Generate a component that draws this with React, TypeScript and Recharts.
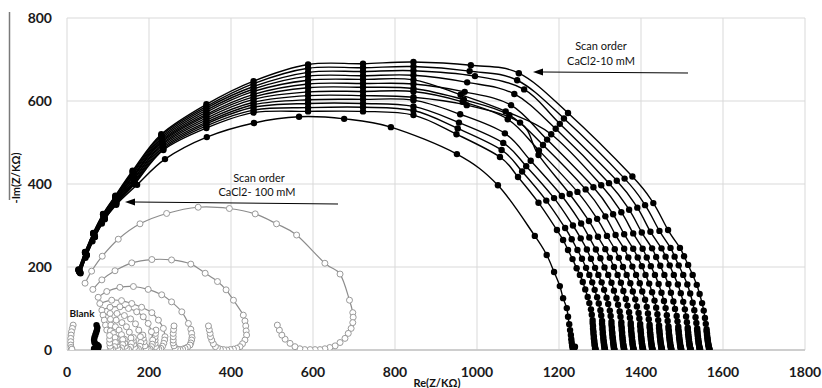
import React from 'react';
import { ScatterChart, Scatter, XAxis, YAxis, CartesianGrid } from 'recharts';

type P = [number, number];

const xTicks = [0, 200, 400, 600, 800, 1000, 1200, 1400, 1600, 1800];
const yTicks = [0, 200, 400, 600, 800];

// CaCl2 10 mM scans (black), inner (ends ~1285) to outer (ends ~1568)
const scan10_k0: P[] = [[32,186],[48,228],[68,272],[92,315],[120,352],[165,400],[235,482],[340,535],[455,572],[588,575],[722,575],[845,566],[950,520],[1056,465],[1100,417],[1150,355],[1195,289],[1210,265],[1222,241],[1233,219],[1243,197],[1251,181],[1258,164],[1264,146],[1270,128],[1274,113],[1278,98],[1280,85],[1282,72],[1282,65],[1283,58],[1283,51],[1284,45],[1284,39],[1285,33],[1285,28],[1286,23],[1286,19],[1287,14],[1287,11],[1288,7],[1288,4],[1289,2],[1289,1]];
const scan10_k1: P[] = [[32,187],[48,229],[68,273],[92,316],[120,354],[165,403],[235,485],[340,540],[455,578],[588,584],[722,585],[845,577],[953,534],[1060,482],[1110,430],[1169,360],[1215,294],[1231,267],[1245,241],[1256,220],[1266,198],[1274,181],[1281,163],[1287,145],[1293,127],[1297,112],[1301,96],[1303,83],[1305,70],[1305,63],[1306,56],[1306,50],[1307,43],[1307,38],[1308,32],[1308,27],[1309,22],[1309,18],[1310,14],[1310,11],[1311,7],[1311,4],[1312,2],[1312,1]];
const scan10_k2: P[] = [[31,187],[47,229],[67,274],[91,317],[120,355],[164,405],[234,488],[340,545],[455,585],[588,594],[722,594],[845,587],[956,548],[1064,499],[1120,443],[1188,366],[1234,300],[1253,269],[1268,242],[1278,220],[1288,198],[1296,181],[1304,163],[1310,145],[1316,126],[1320,111],[1324,95],[1326,82],[1328,68],[1328,61],[1329,54],[1329,48],[1330,42],[1330,37],[1331,31],[1331,27],[1332,22],[1332,18],[1333,14],[1333,10],[1334,7],[1334,4],[1335,2],[1335,1]];
const scan10_k3: P[] = [[31,188],[47,230],[67,274],[91,318],[120,357],[164,408],[234,492],[340,549],[455,591],[588,603],[722,604],[845,602],[959,568],[1068,522],[1131,456],[1207,371],[1254,305],[1274,271],[1290,242],[1301,221],[1311,199],[1320,181],[1328,162],[1334,143],[1340,124],[1344,109],[1348,93],[1350,80],[1352,67],[1352,60],[1353,54],[1353,48],[1354,42],[1354,36],[1355,31],[1355,26],[1356,21],[1356,17],[1357,13],[1357,10],[1358,7],[1358,4],[1359,2],[1359,1]];
const scan10_k4: P[] = [[31,189],[47,231],[67,275],[91,319],[119,359],[163,411],[233,495],[340,554],[455,597],[588,613],[722,613],[845,609],[975,590],[1105,548],[1150,470],[1226,376],[1273,311],[1295,273],[1313,243],[1324,222],[1334,200],[1343,181],[1351,162],[1357,142],[1363,123],[1367,107],[1371,91],[1373,78],[1375,65],[1375,59],[1376,52],[1376,46],[1377,40],[1377,35],[1378,30],[1378,25],[1379,21],[1379,17],[1380,13],[1380,10],[1381,7],[1381,4],[1382,2],[1382,1]];
const scan10_k5: P[] = [[30,189],[46,231],[66,276],[90,320],[119,360],[163,413],[233,498],[340,559],[455,604],[588,622],[722,623],[845,623],[965,598],[1075,556],[1151,481],[1245,381],[1293,316],[1317,275],[1336,243],[1346,222],[1356,200],[1365,181],[1374,161],[1380,141],[1386,122],[1390,105],[1394,89],[1396,76],[1398,63],[1398,57],[1399,50],[1399,45],[1400,39],[1400,34],[1401,29],[1401,25],[1402,20],[1402,16],[1403,13],[1403,9],[1404,6],[1404,4],[1405,2],[1405,1]];
const scan10_k6: P[] = [[30,190],[46,232],[66,277],[90,321],[119,362],[162,416],[232,501],[340,564],[455,610],[588,632],[722,633],[845,630],[968,603],[1079,566],[1161,494],[1265,387],[1313,322],[1338,277],[1359,244],[1369,223],[1379,201],[1388,181],[1397,161],[1403,141],[1410,121],[1414,104],[1417,88],[1419,74],[1421,61],[1421,55],[1422,49],[1422,43],[1423,38],[1423,33],[1424,28],[1424,24],[1425,20],[1425,16],[1426,12],[1426,9],[1427,6],[1427,4],[1428,2],[1428,1]];
const scan10_k7: P[] = [[30,191],[46,233],[66,278],[90,323],[119,364],[162,419],[232,504],[340,568],[455,616],[588,641],[722,642],[845,641],[970,622],[1083,590],[1171,507],[1284,392],[1332,327],[1359,279],[1381,244],[1392,223],[1402,202],[1411,181],[1420,160],[1427,139],[1433,119],[1437,102],[1440,86],[1442,72],[1444,59],[1444,53],[1445,47],[1445,42],[1446,37],[1446,32],[1447,27],[1447,23],[1448,19],[1448,15],[1449,12],[1449,9],[1450,6],[1450,4],[1451,2],[1451,1]];
const scan10_k8: P[] = [[29,191],[45,233],[65,279],[89,324],[119,365],[162,421],[232,507],[340,573],[455,623],[588,650],[722,652],[845,651],[960,615],[1070,575],[1181,520],[1303,397],[1352,332],[1381,281],[1404,244],[1414,223],[1424,202],[1434,181],[1443,159],[1450,138],[1456,118],[1460,101],[1463,84],[1465,70],[1467,57],[1467,51],[1468,46],[1468,40],[1469,35],[1469,31],[1470,26],[1470,22],[1471,18],[1471,15],[1472,11],[1472,9],[1473,6],[1473,3],[1474,2],[1474,1]];
const scan10_k9: P[] = [[29,192],[45,234],[65,280],[89,325],[118,367],[161,424],[231,510],[340,578],[455,629],[588,660],[722,661],[845,662],[976,645],[1091,617],[1192,533],[1322,402],[1371,338],[1402,283],[1427,245],[1437,224],[1447,203],[1457,181],[1467,159],[1473,138],[1479,117],[1483,99],[1487,82],[1489,69],[1491,56],[1491,50],[1492,45],[1492,40],[1493,35],[1493,30],[1494,26],[1494,22],[1495,18],[1495,15],[1496,11],[1496,8],[1497,6],[1497,3],[1498,2],[1498,1]];
const scan10_k10: P[] = [[29,193],[45,235],[65,280],[89,326],[118,369],[161,427],[231,514],[340,583],[455,635],[588,669],[722,671],[845,673],[995,660],[1115,628],[1202,545],[1341,408],[1391,343],[1423,285],[1450,245],[1460,225],[1470,204],[1480,181],[1490,158],[1497,137],[1503,116],[1507,98],[1510,81],[1512,67],[1514,54],[1514,49],[1515,43],[1515,38],[1516,33],[1516,29],[1517,25],[1517,21],[1518,17],[1518,14],[1519,11],[1519,8],[1520,5],[1520,3],[1521,2],[1521,1]];
const scan10_k11: P[] = [[28,193],[44,235],[64,281],[88,327],[118,370],[160,429],[230,517],[340,587],[455,642],[588,679],[722,680],[845,683],[982,672],[1098,650],[1212,558],[1360,413],[1410,349],[1445,287],[1472,246],[1482,225],[1492,204],[1503,181],[1513,158],[1520,136],[1526,114],[1530,96],[1533,79],[1535,65],[1537,52],[1537,47],[1538,42],[1538,37],[1539,32],[1539,28],[1540,24],[1540,20],[1541,17],[1541,14],[1542,10],[1542,8],[1543,5],[1543,3],[1544,2],[1544,1]];
const scan10_k12: P[] = [[28,194],[44,236],[64,282],[88,328],[118,372],[160,432],[230,520],[340,592],[455,648],[588,688],[722,690],[845,694],[985,686],[1102,667],[1222,571],[1379,418],[1430,354],[1466,289],[1495,246],[1505,226],[1515,205],[1526,181],[1536,157],[1543,135],[1549,113],[1553,95],[1556,77],[1558,63],[1560,50],[1560,45],[1561,40],[1561,36],[1562,31],[1562,27],[1563,23],[1563,20],[1564,16],[1564,13],[1565,10],[1565,8],[1566,5],[1566,3],[1567,2],[1567,1]];
const scan10_first: P[] = [[33,185],[45,222],[62,262],[85,305],[120,350],[171,398],[239,460],[341,513],[456,547],[566,562],[676,557],[790,537],[951,472],[1051,397],[1141,275],[1170,229],[1188,188],[1202,154],[1210,125],[1219,101],[1222,80],[1225,62],[1227,48],[1229,36],[1230,26],[1231,18],[1232,11],[1233,6],[1234,2],[1237,4],[1239,8]];

const scans10mM: P[][] = [scan10_k0, scan10_k1, scan10_k2, scan10_k3, scan10_k4, scan10_k5, scan10_k6, scan10_k7, scan10_k8, scan10_k9, scan10_k10, scan10_k11, scan10_k12, scan10_first];

// CaCl2 100 mM scans (grey open circles)
const scan100_1: P[] = [[44,161],[60,190],[86,226],[125,267],[178,304],[243,329],[320,344],[396,341],[459,328],[511,304],[560,277],[629,209],[666,183],[689,120],[697,90],[698,79],[697,66],[693,52],[686,40],[678,28],[666,18],[654,10],[641,6],[629,3],[617,1],[605,1],[593,1],[580,1],[568,3],[556,8],[544,16],[532,26],[524,36],[518,48],[513,60]];
const scan100_2: P[] = [[63,146],[85,169],[117,191],[158,210],[207,218],[255,217],[302,207],[337,185],[367,165],[388,145],[406,120],[430,84],[434,70],[436,58],[437,46],[438,36],[434,24],[428,15],[422,8],[414,4],[406,2],[398,1],[390,0],[382,1],[374,2],[367,5],[362,8],[357,15],[353,24],[350,32],[349,40],[347,49],[345,58]];
const scan100_3: P[] = [[76,127],[97,141],[129,151],[162,153],[198,146],[231,133],[255,116],[280,92],[296,64],[302,50],[304,40],[305,30],[304,24],[302,17],[300,12],[294,7],[288,4],[282,2],[276,1],[270,2],[264,4],[261,10],[259,17],[259,24],[259,32],[259,40],[260,49],[261,58]];
const scan100_4: P[] = [[80,112],[109,120],[133,119],[158,112],[182,103],[207,90],[223,72],[235,52],[239,32],[238,24],[236,16],[233,9],[229,4],[224,2],[219,3],[216,8],[215,16],[215,24],[215,32],[216,40],[217,48]];
const scan100_5: P[] = [[85,96],[105,103],[129,104],[150,100],[170,92],[186,80],[198,64],[206,44],[209,24],[208,14],[206,8],[202,3],[198,2],[193,4],[190,10],[188,20],[186,28],[185,36]];
const scan100_6: P[] = [[88,84],[105,88],[122,88],[140,83],[155,75],[167,63],[175,48],[179,32],[180,18],[178,9],[174,3],[169,2],[165,6],[163,14],[162,22],[162,30]];
const scan100_7: P[] = [[91,72],[106,74],[120,72],[134,66],[145,56],[152,43],[156,29],[157,16],[155,7],[150,2],[145,3],[142,9],[141,17],[140,26]];
const scan100_8: P[] = [[94,60],[107,60],[118,56],[127,48],[133,37],[136,25],[136,13],[133,5],[128,1],[124,4],[122,11],[121,19],[120,28]];
const scan100_9: P[] = [[97,48],[106,46],[113,40],[117,30],[118,18],[116,8],[111,2],[107,3],[105,9],[104,17],[104,26],[104,35]];
const scan100_0: P[] = [[15,60],[13,52],[11,44],[10,36],[9,28],[9,20],[9,12],[10,6],[12,2]];

const scans100mM: P[][] = [scan100_1, scan100_2, scan100_3, scan100_4, scan100_5, scan100_6, scan100_7, scan100_8, scan100_9, scan100_0];

// Blank
const blankScan: P[] = [[72,60],[74,54],[73,48],[71,42],[69,36],[67,30],[66,24],[67,18],[70,14],[74,12],[77,9],[76,5],[72,2],[68,1],[66,3]];

const toRows = (pts: P[]) => pts.map(([x, y]) => ({ x, y }));

// Catmull-Rom style smoothing through the points (like Excel smoothed lines)
const smoothCurve: any = (context: any) => {
  let pts: number[][] = [];
  return {
    areaStart() {},
    areaEnd() {},
    lineStart() { pts = []; },
    point(x: number, y: number) { pts.push([+x, +y]); },
    lineEnd() {
      const n = pts.length;
      if (!n) return;
      context.moveTo(pts[0][0], pts[0][1]);
      for (let i = 0; i < n - 1; i++) {
        const p0 = pts[Math.max(0, i - 1)];
        const p1 = pts[i];
        const p2 = pts[i + 1];
        const p3 = pts[Math.min(n - 1, i + 2)];
        context.bezierCurveTo(
          p1[0] + (p2[0] - p0[0]) / 6, p1[1] + (p2[1] - p0[1]) / 6,
          p2[0] - (p3[0] - p1[0]) / 6, p2[1] - (p3[1] - p1[1]) / 6,
          p2[0], p2[1]
        );
      }
    },
  };
};

const BlackDot = (p: any) => <circle cx={p.cx} cy={p.cy} r={3.2} fill="#000" />;
const GreyDot = (p: any) => <circle cx={p.cx} cy={p.cy} r={3} fill="#fff" stroke="#9a9a9a" strokeWidth={1} />;

const tickStyle = { fontFamily: 'Lato, "DejaVu Sans", sans-serif', fontWeight: 700, fontSize: 14, fill: '#1a1a1a' };
const font = 'Lato, "DejaVu Sans", sans-serif';

export default function App() {
  return (
    <div style={{ position: 'absolute', left: 0, top: 0, width: 822, height: 388, background: '#fff', overflow: 'hidden' }}>
      <ScatterChart width={822} height={388} margin={{ top: 18, right: 17, left: 0, bottom: 0 }}>
        <CartesianGrid stroke="#d9d9d9" strokeWidth={1} />
        <XAxis
          type="number" dataKey="x" domain={[0, 1800]} ticks={xTicks} interval={0}
          tickLine={false} tickSize={0} tickMargin={17} height={38}
          axisLine={{ stroke: '#c4c4c4', strokeWidth: 1.5 }} tick={tickStyle} allowDataOverflow
        />
        <YAxis
          type="number" dataKey="y" domain={[0, 800]} ticks={yTicks} interval={0}
          axisLine={false} tickLine={false} tickSize={0} tickMargin={15} width={67} tick={tickStyle} allowDataOverflow
        />
        {scans100mM.map((s, i) => (
          <Scatter
            key={'g' + i} data={toRows(s)} isAnimationActive={false}
            line={{ stroke: '#8c8c8c', strokeWidth: 1.2 }} lineType="joint" lineJointType={smoothCurve}
            shape={GreyDot}
          />
        ))}
        {scans10mM.map((s, i) => (
          <Scatter
            key={'b' + i} data={toRows(s)} isAnimationActive={false}
            line={{ stroke: '#000', strokeWidth: 1.4 }} lineType="joint" lineJointType={smoothCurve}
            shape={BlackDot}
          />
        ))}
        <Scatter
          data={toRows(blankScan)} isAnimationActive={false}
          line={{ stroke: '#000', strokeWidth: 1.4 }} lineType="joint" lineJointType={smoothCurve}
          shape={BlackDot}
        />
      </ScatterChart>
      <svg width={822} height={388} style={{ position: 'absolute', left: 0, top: 0, pointerEvents: 'none' }}>
        <line x1={9.5} y1={12} x2={9.5} y2={200} stroke="#7a7a7a" strokeWidth={1.5} />
        <text x={15} y={178} transform="rotate(-90 15 178)" textAnchor="middle" dominantBaseline="central"
          fontFamily={font} fontWeight={700} fontSize={11} fill="#111">-Im(Z/KΩ)</text>
        <text x={437} y={387} textAnchor="middle" fontFamily={font} fontWeight={700} fontSize={11} fill="#111">Re(Z/KΩ)</text>
        <text x={601} y={50} textAnchor="middle" fontFamily={font} fontSize={11} fill="#111">Scan order</text>
        <text x={601} y={65} textAnchor="middle" fontFamily={font} fontSize={11} fill="#111">CaCl2-10 mM</text>
        <line x1={688} y1={73} x2={543} y2={72} stroke="#000" strokeWidth={1} />
        <path d="M533,72 L543,68.5 L543,75.5 Z" fill="#000" />
        <text x={259} y={182} textAnchor="middle" fontFamily={font} fontSize={11} fill="#111">Scan order</text>
        <text x={257} y={196} textAnchor="middle" fontFamily={font} fontSize={11} fill="#111">CaCl2- 100 mM</text>
        <line x1={338} y1={204} x2={135} y2={202} stroke="#000" strokeWidth={1} />
        <path d="M125,202 L135,198.5 L135,205.5 Z" fill="#000" />
        <text x={82} y={317} textAnchor="middle" fontFamily={font} fontWeight={700} fontSize={10} fill="#111">Blank</text>
      </svg>
    </div>
  );
}
